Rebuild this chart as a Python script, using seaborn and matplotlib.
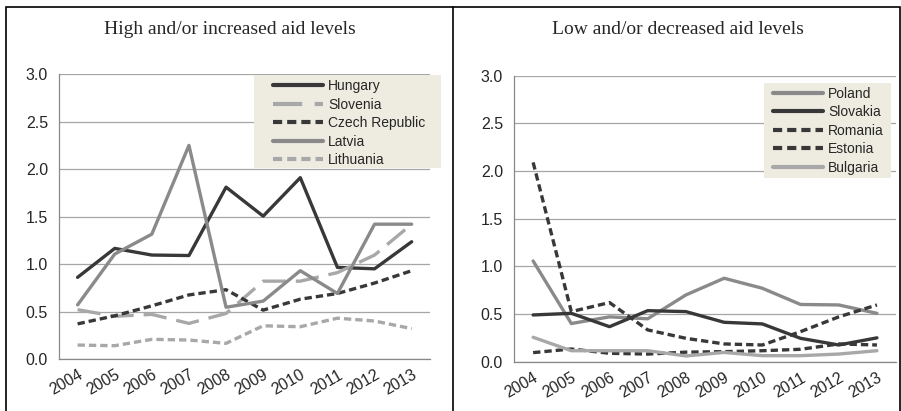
import pandas as pd
import matplotlib
matplotlib.use("Agg")
import matplotlib.pyplot as plt
from matplotlib.patches import Rectangle
import seaborn as sns

years = [str(y) for y in range(2004, 2014)]

# left panel: high and/or increased aid levels
hungary = [0.86, 1.165, 1.095, 1.09, 1.81, 1.505, 1.91, 0.965, 0.95, 1.235]
slovenia = [0.52, 0.45, 0.47, 0.375, 0.48, 0.82, 0.82, 0.91, 1.095, 1.42]
czech = [0.37, 0.455, 0.56, 0.675, 0.73, 0.515, 0.63, 0.69, 0.80, 0.93]
latvia = [0.57, 1.105, 1.315, 2.25, 0.545, 0.61, 0.93, 0.69, 1.42, 1.42]
lithuania = [0.147, 0.14, 0.207, 0.2, 0.165, 0.35, 0.34, 0.43, 0.40, 0.32]

# right panel: low and/or decreased aid levels
poland = [1.056, 0.40, 0.47, 0.45, 0.70, 0.875, 0.77, 0.60, 0.595, 0.507]
slovakia = [0.49, 0.507, 0.367, 0.535, 0.525, 0.413, 0.396, 0.245, 0.175, 0.25]
romania = [2.09, 0.525, 0.62, 0.333, 0.245, 0.186, 0.175, 0.315, 0.47, 0.595]
estonia = [0.095, 0.133, 0.088, 0.08, 0.10, 0.105, 0.115, 0.13, 0.186, 0.175]
bulgaria = [0.256, 0.115, 0.115, 0.115, 0.06, 0.097, 0.063, 0.063, 0.08, 0.115]

DARK = "#383838"
MID = "#8a8a8a"
LIGHT = "#a8a8a8"

left_series = {"Hungary": hungary, "Slovenia": slovenia, "Czech Republic": czech,
               "Latvia": latvia, "Lithuania": lithuania}
left_colors = {"Hungary": DARK, "Slovenia": LIGHT, "Czech Republic": DARK,
               "Latvia": MID, "Lithuania": LIGHT}
left_dashes = {"Hungary": "", "Slovenia": (7, 3), "Czech Republic": (2.2, 1.2),
               "Latvia": "", "Lithuania": (2.2, 1.2)}

right_series = {"Poland": poland, "Slovakia": slovakia, "Romania": romania,
                "Estonia": estonia, "Bulgaria": bulgaria}
right_colors = {"Poland": MID, "Slovakia": DARK, "Romania": DARK,
                "Estonia": DARK, "Bulgaria": LIGHT}
right_dashes = {"Poland": "", "Slovakia": "", "Romania": (2.2, 1.2),
                "Estonia": (2.2, 1.2), "Bulgaria": ""}

W, H = 901, 411


def long_df(series):
    rows = []
    for name, vals in series.items():
        for yr, v in zip(years, vals):
            rows.append({"year": yr, "value": v, "country": name})
    return pd.DataFrame(rows)


sns.set_style("white")
plt.rcParams["font.family"] = ["Liberation Sans", "DejaVu Sans"]

fig = plt.figure(figsize=(9.01, 4.11), dpi=100)
ax1 = fig.add_axes([0.0655, 0.1265, 0.412, 0.693])
ax2 = fig.add_axes([0.5705, 0.12, 0.424, 0.696])


def draw(ax, series, colors, dashes, box, anchor):
    df = long_df(series)
    sns.lineplot(data=df, x="year", y="value", hue="country", style="country",
                 palette=colors, dashes=dashes, hue_order=list(series),
                 style_order=list(series), linewidth=2.4, ax=ax, sort=False)
    ax.set_xlim(-0.5, len(years) - 0.5)
    ax.set_ylim(0, 3.0)
    ax.set_yticks([0, 0.5, 1.0, 1.5, 2.0, 2.5, 3.0])
    ax.set_yticklabels([f"{v:.1f}" for v in ax.get_yticks()], fontsize=11.5)
    ax.set_xticks(range(len(years)))
    ax.set_xticklabels(years, rotation=30, ha="right", rotation_mode="anchor",
                       fontsize=11.5)
    ax.tick_params(axis="x", which="major", length=0, pad=6)
    ax.set_xticks([i - 0.5 for i in range(len(years) + 1)], minor=True)
    ax.tick_params(axis="x", which="minor", length=4, color="#888888")
    ax.tick_params(axis="y", length=4, color="#888888", pad=4)
    ax.yaxis.grid(True, color="#a6a6a6", linewidth=0.9)
    ax.set_axisbelow(True)
    for s in ["top", "right"]:
        ax.spines[s].set_visible(False)
    for s in ["left", "bottom"]:
        ax.spines[s].set_color("#888888")
        ax.spines[s].set_linewidth(0.9)
    ax.set_xlabel("")
    ax.set_ylabel("")
    # beige legend background box (pixel box x0, y0, x1, y1 from top-left)
    x0, y0, x1, y1 = box
    ax.add_patch(Rectangle((x0 / W, 1 - y1 / H), (x1 - x0) / W, (y1 - y0) / H,
                           transform=fig.transFigure, facecolor="#eeece1",
                           edgecolor="none", zorder=2.5, clip_on=False))
    leg = ax.legend(loc="upper left", bbox_to_anchor=(anchor[0] / W, 1 - anchor[1] / H),
                    bbox_transform=fig.transFigure, frameon=False,
                    fontsize=10, handlelength=3.6, handletextpad=0.36,
                    labelspacing=0.33, borderpad=0, borderaxespad=0)
    leg.set_zorder(6)
    for h in leg.get_lines():
        h.set_linewidth(3)


draw(ax1, left_series, left_colors, left_dashes, (254, 75, 441, 168), (273, 79))
draw(ax2, right_series, right_colors, right_dashes, (764, 83, 891, 178), (773, 86.5))

title_font = ["Liberation Serif", "DejaVu Serif"]
fig.text(229.5 / W, 1 - 30 / H, "High and/or increased aid levels",
         ha="center", va="center", fontsize=14, family=title_font)
fig.text(678 / W, 1 - 30 / H, "Low and/or decreased aid levels",
         ha="center", va="center", fontsize=14, family=title_font)

# outer frame and divider
fig.patches.append(Rectangle((6 / W, -0.01), 894 / W, 1 - 7 / H + 0.01,
                             transform=fig.transFigure, fill=False,
                             edgecolor="black", linewidth=1.2))
fig.add_artist(plt.Line2D([453 / W, 453 / W], [0, 1 - 7 / H],
                          transform=fig.transFigure, color="black", linewidth=1.2))

fig.savefig("out.png", dpi=100)
